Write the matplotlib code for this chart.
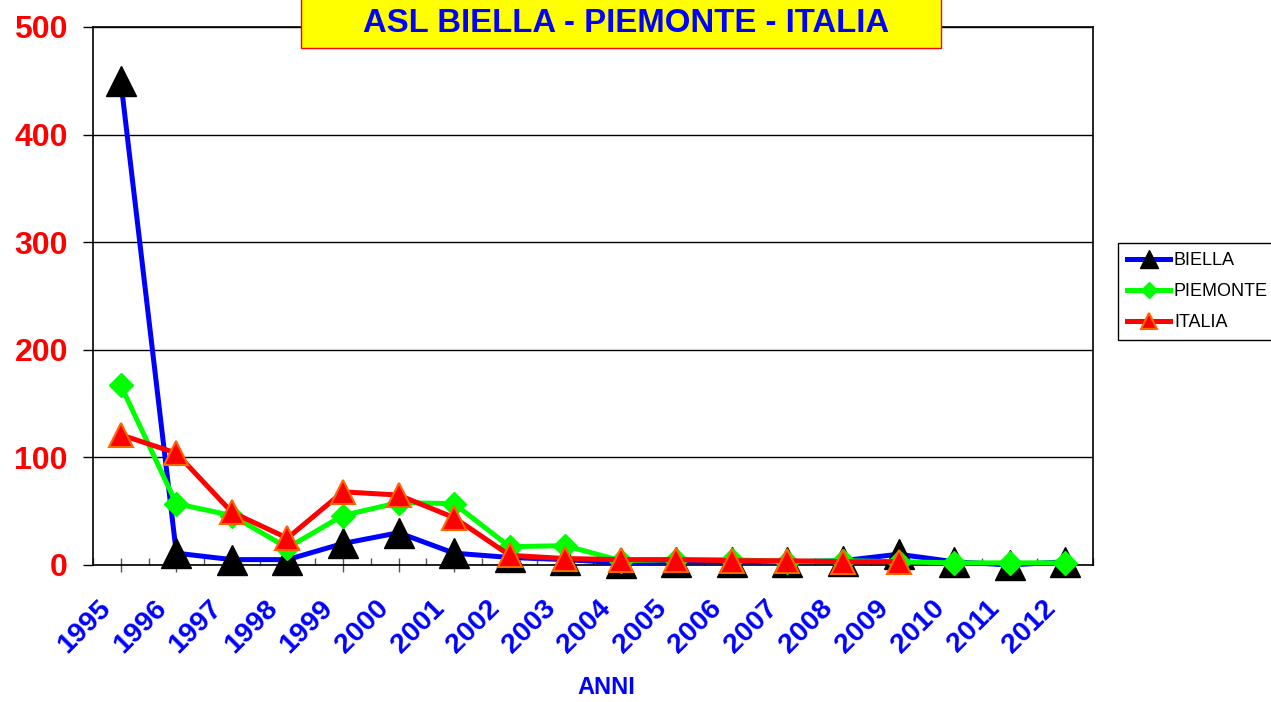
import numpy as np
import matplotlib
matplotlib.use("Agg")
import matplotlib.pyplot as plt
from matplotlib.patches import Rectangle
from matplotlib.transforms import ScaledTranslation

# ----------------------
# Data
# ----------------------
anni = ["1995", "1996", "1997", "1998", "1999", "2000", "2001", "2002", "2003",
        "2004", "2005", "2006", "2007", "2008", "2009", "2010", "2011", "2012"]
biella = [450, 11, 5, 5, 20, 30, 11, 7, 5, 2, 3, 3, 3, 4, 10, 3, 0, 3]
piemonte = [167, 57, 46, 16, 46, 58, 57, 17, 18, 4, 5, 5, 3, 4, 3, 2, 2, 2]
italia = [121, 104, 49, 25, 68, 65, 44, 9, 6, 5, 5, 4, 4, 3, 3,
          np.nan, np.nan, np.nan]
y_ticks = [0, 100, 200, 300, 400, 500]

plt.rcParams['font.family'] = ['Liberation Sans', 'DejaVu Sans']

fig = plt.figure(figsize=(12.71, 7.02), dpi=100)
ax = fig.add_axes([93/1271, 1 - 565/702, 1000/1271, 538/702])

x = np.arange(len(anni))
ax.plot(x, biella, color='#0000FF', lw=3.6, marker='^', ms=21,
        mfc='black', mec='black', label='BIELLA', zorder=3, clip_on=False)
ax.plot(x, piemonte, color='#00FF00', lw=3.6, marker='D', ms=12.5,
        mfc='#00FF00', mec='#00FF00', label='PIEMONTE', zorder=4,
        clip_on=False)
ax.plot(x, italia, color='#FF0000', lw=3.6, marker='^', ms=17,
        mfc='#FF0000', mec='#FF6600', mew=1.5, label='ITALIA', zorder=5,
        clip_on=False)

ax.set_xlim(-0.5, len(anni) - 0.5)
ax.set_ylim(0, 500)

# y axis
ax.set_yticks(y_ticks)
ax.set_yticklabels([str(v) for v in y_ticks], color='#FF0000',
                   fontsize=23, fontweight='bold')
ax.tick_params(axis='y', direction='out', length=7, width=1, pad=11)
ax.yaxis.grid(True, color='black', lw=1)
ax.set_axisbelow(True)

# x axis: long ticks at categories, short ones between
ax.set_xticks(x)
ax.set_xticks(np.arange(len(anni) + 1) - 0.5, minor=True)
ax.set_xticklabels(anni, color='#0000FF', fontsize=20.5, fontweight='bold',
                   rotation=45, ha='right', va='top', rotation_mode='anchor')
ax.tick_params(axis='x', which='major', direction='inout', length=10,
               width=1, pad=17, colors='#555555', labelcolor='#0000FF')
ax.tick_params(axis='x', which='minor', direction='in', length=5,
               width=1, colors='#555555')
for lab in ax.get_xticklabels():
    lab.set_transform(lab.get_transform()
                      + ScaledTranslation(-0.23, 0, fig.dpi_scale_trans))

for sp in ax.spines.values():
    sp.set_color('black')
    sp.set_linewidth(1.2)

fig.text(606/1271, 1 - 688/702, "ANNI", color='#0000FF', fontsize=17,
         fontweight='bold', ha='center', va='center')

# title box
fig.add_artist(Rectangle((301/1271, 1 - 48/702), 640/1271, 60/702,
                         transform=fig.transFigure, facecolor='#FFFF00',
                         edgecolor='#FF0000', lw=1, zorder=10))
fig.text(626/1271, 1 - 32/702, "ASL BIELLA - PIEMONTE - ITALIA",
         color='#0000FF', fontsize=23.7, fontweight='bold',
         ha='center', va='baseline', zorder=11)

leg = ax.legend(loc='upper left', bbox_to_anchor=(1118/1271, 1 - 243/702),
                bbox_transform=fig.transFigure, borderaxespad=0,
                fontsize=13, frameon=True, fancybox=False, framealpha=1,
                edgecolor='black', markerscale=0.65, handlelength=2.4,
                labelspacing=0.78, borderpad=0.5, handletextpad=0.2)
leg.get_frame().set_linewidth(1)

fig.savefig("out.png", dpi=100)
